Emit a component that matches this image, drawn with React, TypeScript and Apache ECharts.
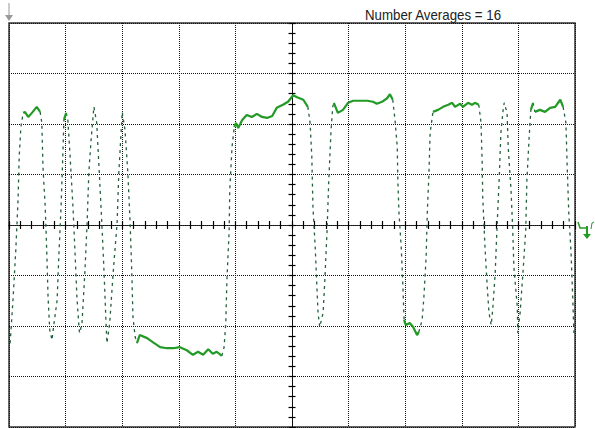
import React, { useEffect, useRef } from "react";
import * as echarts from "echarts";

// Time in horizontal divisions (0..10)
const timeDiv = [
  0.02, 0.07, 0.12, 0.16, 0.18, 0.21, 0.25, 0.28, 0.34, 0.42, 0.49, 0.55, 0.58, 0.6, 0.64, 0.67, 0.69, 0.72, 0.76, 0.78,
  0.85, 0.88, 0.92, 0.95, 0.97, 1.01, 1.04, 1.08, 1.13, 1.17, 1.2, 1.24, 1.25, 1.29, 1.34, 1.38, 1.41, 1.45, 1.5, 1.55,
  1.59, 1.64, 1.68, 1.71, 1.73, 1.78, 1.84, 1.91, 1.94, 1.98, 2.0, 2.05, 2.1, 2.14, 2.17, 2.19, 2.23, 2.26,
  2.31, 2.44, 2.54, 2.67, 2.79, 2.9, 3.02, 3.14, 3.25, 3.34, 3.43, 3.52, 3.6, 3.67, 3.76, 3.8,
  3.83, 3.85, 3.89, 3.9, 3.94, 3.98, 4.01, 4.05, 4.12, 4.2, 4.29, 4.38, 4.47, 4.56, 4.65, 4.73, 4.84, 4.93, 5.02, 5.09, 5.2, 5.28,
  5.32, 5.35, 5.37, 5.41, 5.44, 5.46, 5.49, 5.55, 5.58, 5.62, 5.65, 5.69, 5.72, 5.74, 5.81, 5.9, 5.99, 6.08, 6.2, 6.33, 6.43, 6.5, 6.59, 6.68, 6.73, 6.78,
  6.82, 6.86, 6.87, 6.89, 6.93, 6.96, 6.98, 7.01, 7.08, 7.14, 7.21, 7.24,
  7.3, 7.33, 7.37, 7.39, 7.42, 7.44, 7.49, 7.58, 7.67, 7.76, 7.83, 7.88, 7.97, 8.02, 8.11, 8.18, 8.23, 8.3,
  8.34, 8.36, 8.37, 8.41, 8.45, 8.48, 8.52, 8.55, 8.59, 8.62, 8.66, 8.69, 8.73, 8.75, 8.8, 8.82, 8.87, 8.9, 8.92, 8.98,
  8.99, 9.03, 9.08, 9.13, 9.15, 9.19, 9.22, 9.26, 9.29, 9.38, 9.47, 9.56, 9.65, 9.74, 9.79, 9.84, 9.86, 9.89, 9.93, 9.96, 9.98,
];

// Signal level in vertical divisions (-4..4)
const levelDiv = [
  -2.34, -1.49, -0.5, 0.5, 1.35, 1.94, 2.22, 2.24, 2.14, 2.24, 2.34, 2.24, 2.02, 1.15, 0.36, -0.63, -1.43, -2.08, -2.28, -2.08,
  -1.49, -0.63, 0.36, 1.35, 2.08, 2.22, 2.08, 1.35, 0.36, -0.63, -1.43, -2.08, -2.14, -1.94, -0.95, 0.04, 1.03, 1.68, 2.34, 2.02,
  1.15, 0.04, -0.95, -1.82, -2.34, -1.94, -0.95, 0.04, 1.03, 1.82, 2.24, 1.88, 1.03, 0.04, -0.95, -1.82, -2.22, -2.34,
  -2.18, -2.24, -2.32, -2.42, -2.44, -2.44, -2.42, -2.48, -2.57, -2.51, -2.57, -2.46, -2.55, -2.51, -2.59, -2.42,
  -1.94, -1.09, -0.1, 0.69, 1.54, 1.94, 2.02, 1.92, 2.08, 2.18, 2.14, 2.2, 2.14, 2.12, 2.16, 2.32, 2.38, 2.44, 2.57, 2.53, 2.48, 2.34,
  2.02, 1.35, 0.36, -0.44, -1.23, -1.74, -2.02, -1.74, -1.09, -0.1, 0.89, 1.88, 2.34, 2.42, 2.22, 2.28, 2.42, 2.46, 2.46, 2.46, 2.44, 2.4, 2.44, 2.51, 2.59, 2.48,
  2.08, 1.54, 0.89, 0.24, -0.44, -1.23, -1.88, -1.98, -1.94, -2.02, -2.18, -2.12,
  -1.88, -1.43, -0.63, 0.24, 1.03, 1.82, 2.24, 2.28, 2.34, 2.38, 2.42, 2.34, 2.4, 2.34, 2.42, 2.38, 2.42, 2.38,
  2.02, 1.23, 0.55, -0.44, -1.23, -1.74, -1.98, -1.62, -0.95, -0.1, 0.89, 1.82, 2.28, 2.42, 2.22, 1.54, 0.69, -0.1, -0.83, -1.62,
  -2.14, -1.74, -0.95, -0.1, 0.89, 1.74, 2.28, 2.42, 2.24, 2.28, 2.24, 2.32, 2.34, 2.48, 2.34, 2.02, 1.23, 0.24, -0.55, -1.43, -2.14,
];

const titleText = "Number Averages = 16";

const X_MIN = -5;
const X_MAX = 5;
const Y_MIN = -4;
const Y_MAX = 4;

export default function App() {
  const ref = useRef<HTMLDivElement>(null);

  useEffect(() => {
    if (!ref.current) return;
    const chart = echarts.init(ref.current, undefined, { renderer: "svg" });

    const n = Math.min(timeDiv.length, levelDiv.length);
    const pts: [number, number][] = [];
    for (let i = 0; i < n; i++) pts.push([timeDiv[i] + X_MIN, levelDiv[i]]);

    // pixel-scale steepness (56.6 px per x-div, 50.5 px per y-div)
    const isSteep = (i: number) => {
      const dx = Math.abs(pts[i + 1][0] - pts[i][0]) * 56.6;
      const dy = Math.abs(pts[i + 1][1] - pts[i][1]) * 50.5;
      return dy > 3.5 * Math.max(dx, 0.01);
    };
    const build = (steep: boolean) => {
      const out: any[] = [];
      let open = false;
      for (let i = 0; i < pts.length - 1; i++) {
        if (isSteep(i) === steep) {
          if (!open) {
            if (out.length) out.push([pts[i][0], null]);
            out.push(pts[i]);
            open = true;
          }
          out.push(pts[i + 1]);
        } else {
          open = false;
        }
      }
      return out;
    };

    const dotted = { color: "#111", type: [1, 1] as any, width: 1 };
    const tickStyle = { color: "#000", width: 1.2 };

    const mkX = (idx: number, inside: boolean, main: boolean) => ({
      type: "value",
      min: X_MIN,
      max: X_MAX,
      interval: 1,
      position: "bottom",
      axisLine: { show: true, onZero: true, onZeroAxisIndex: idx, lineStyle: dotted },
      axisTick: { show: true, inside, length: 4, lineStyle: tickStyle },
      minorTick: { show: true, splitNumber: 5, length: 4, lineStyle: tickStyle },
      axisLabel: { show: false },
      splitLine: { show: main, lineStyle: dotted },
    });
    const mkY = (idx: number, inside: boolean, main: boolean) => ({
      type: "value",
      min: Y_MIN,
      max: Y_MAX,
      interval: 1,
      position: "left",
      axisLine: { show: true, onZero: true, onZeroAxisIndex: idx, lineStyle: dotted },
      axisTick: { show: true, inside, length: 3.5, lineStyle: tickStyle },
      minorTick: { show: true, splitNumber: 5, length: 3.5, lineStyle: tickStyle },
      axisLabel: { show: false },
      splitLine: { show: main, lineStyle: dotted },
    });

    const green = "#229a26";

    chart.setOption({
      animation: false,
      backgroundColor: "#fff",
      grid: {
        left: 9,
        top: 23,
        right: 20,
        bottom: 1,
        show: true,
        borderColor: "#333",
        borderWidth: 1.5,
        backgroundColor: "transparent",
      },
      xAxis: [mkX(0, false, true), mkX(1, true, false)],
      yAxis: [mkY(0, false, true), mkY(1, true, false)],
      series: [
        {
          type: "line",
          xAxisIndex: 0,
          yAxisIndex: 0,
          data: build(true),
          showSymbol: false,
          symbol: "none",
          connectNulls: false,
          lineStyle: { color: "#24603c", width: 1.3, type: [3, 4] },
          z: 3,
        },
        {
          type: "line",
          xAxisIndex: 0,
          yAxisIndex: 0,
          data: build(false),
          showSymbol: false,
          symbol: "none",
          connectNulls: false,
          lineStyle: { color: green, width: 2.2 },
          z: 4,
        },
      ],
      graphic: [
        {
          type: "line",
          shape: { x1: 9, y1: 3, x2: 9, y2: 16 },
          style: { stroke: "#999", lineWidth: 1 },
        },
        {
          type: "polygon",
          shape: { points: [[5, 15], [13, 15], [9, 21]] },
          style: { fill: "#999" },
        },
        {
          type: "text",
          x: 365,
          y: 15,
          scaleX: 0.95,
          style: {
            text: titleText,
            fontSize: 14,
            fontFamily: "Liberation Sans, Arial, sans-serif",
            fill: "#222",
            textVerticalAlign: "middle",
            verticalAlign: "middle",
          },
        },
        {
          type: "polyline",
          shape: { points: [[578, 222], [580, 228], [587, 228]] },
          style: { stroke: green, lineWidth: 1.5, fill: "none" },
        },
        {
          type: "line",
          shape: { x1: 587, y1: 226, x2: 587, y2: 235 },
          style: { stroke: green, lineWidth: 2 },
        },
        {
          type: "polygon",
          shape: { points: [[583, 234], [591, 234], [587, 239]] },
          style: { fill: green },
        },
        {
          type: "polyline",
          shape: { points: [[591, 229], [592, 223], [594, 222]] },
          style: { stroke: green, lineWidth: 1, fill: "none" },
        },
      ],
    });

    return () => chart.dispose();
  }, []);

  return (
    <div
      ref={ref}
      style={{ position: "absolute", left: 0, top: 0, width: 595, height: 428, background: "#fff" }}
    />
  );
}
